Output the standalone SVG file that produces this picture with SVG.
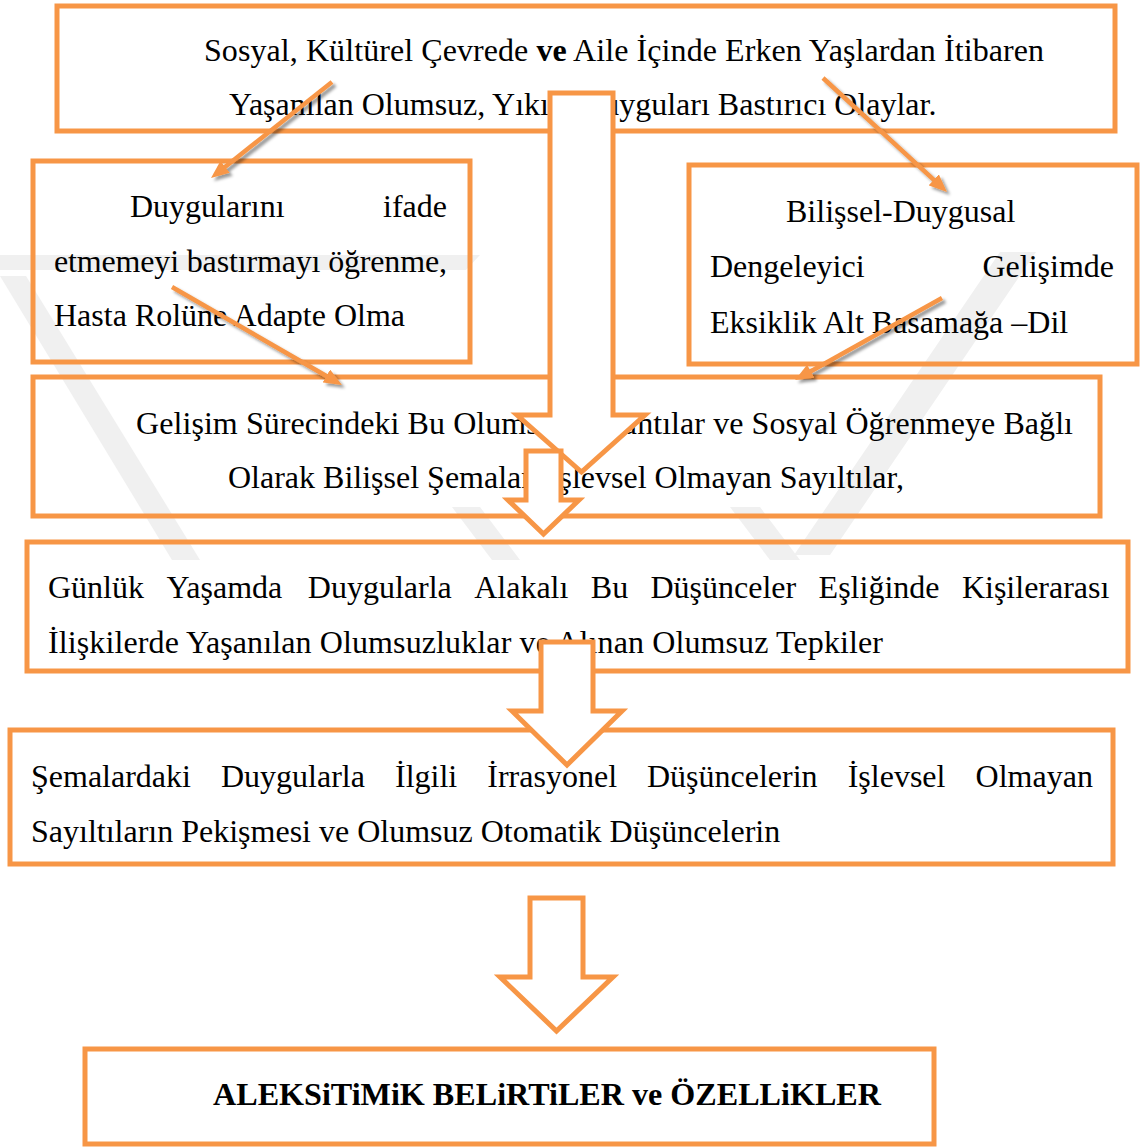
<svg xmlns="http://www.w3.org/2000/svg" width="1144" height="1147" viewBox="0 0 1144 1147">
<style>
.box{fill:none;stroke:#F79646;stroke-width:5}
.t{font-family:"Liberation Serif","Times New Roman",serif;font-size:32px;fill:#000}
.b{font-weight:bold}
.blk{fill:#fff;stroke:#F79646;stroke-width:5;stroke-linejoin:miter}
.ln{stroke:#F79646;stroke-width:4.5;fill:none;marker-end:url(#ah)}
.wm{fill:#f0f0f0}
</style>
<defs>
<marker id="ah" viewBox="0 0 18 15" markerUnits="userSpaceOnUse" markerWidth="18" markerHeight="15" refX="5" refY="7.5" orient="auto">
<path d="M0,0 L18,7.5 L0,15 z" fill="#F79646"/>
</marker>
<filter id="sh" x="-20%" y="-20%" width="140%" height="140%">
<feDropShadow dx="3" dy="3" stdDeviation="1.5" flood-color="#000" flood-opacity="0.4"/>
</filter>
</defs>
<rect width="1144" height="1147" fill="#fff"/>
<g id="watermark">
<polygon class="wm" points="0,255 480,255 466,270 0,270"/>
<polygon class="wm" points="0,276 26,276 200,560 172,560"/>
<polygon class="wm" points="452,507 480,507 520,560 492,560"/>
<polygon class="wm" points="730,507 760,507 800,560 770,560"/>
<polygon class="wm" points="1000,252 1036,252 830,555 794,555"/>
</g>
<g id="n1">
<rect class="box" x="57" y="6" width="1058" height="125"/>
<text class="t" x="204" y="61" textLength="840" lengthAdjust="spacing">Sosyal, Kültürel Çevrede <tspan class="b">ve</tspan> Aile İçinde Erken Yaşlardan İtibaren</text>
<text class="t" x="229" y="115">Yaşanılan Olumsuz, Yıkıcı Duyguları Bastırıcı Olaylar.</text>
</g>
<g id="n2">
<rect class="box" x="33" y="161" width="437" height="201"/>
<text class="t" x="130" y="217">Duygularını</text>
<text class="t" x="447" y="217" text-anchor="end">ifade</text>
<text class="t" x="54" y="272" textLength="393" lengthAdjust="spacing">etmemeyi bastırmayı öğrenme,</text>
<text class="t" x="54" y="326">Hasta Rolüne Adapte Olma</text>
</g>
<g id="n3">
<rect class="box" x="689" y="165" width="448" height="199"/>
<text class="t" x="786" y="222">Bilişsel-Duygusal</text>
<text class="t" x="710" y="277">Dengeleyici</text>
<text class="t" x="1114" y="277" text-anchor="end">Gelişimde</text>
<text class="t" x="710" y="333">Eksiklik Alt Basamağa –Dil</text>
</g>
<g id="n4">
<rect class="box" x="33" y="377" width="1067" height="139"/>
<text class="t" x="136" y="434" textLength="937" lengthAdjust="spacing">Gelişim Sürecindeki Bu Olumsuz Yaşantılar ve Sosyal Öğrenmeye Bağlı</text>
<text class="t" x="228" y="488">Olarak Bilişsel Şemaları İşlevsel Olmayan Sayıltılar,</text>
</g>
<g id="n5">
<rect class="box" x="27" y="542" width="1101" height="129"/>
<text class="t" y="598"><tspan x="48">Günlük</tspan><tspan x="166.4">Yaşamda</tspan><tspan x="307.8">Duygularla</tspan><tspan x="474.2">Alakalı</tspan><tspan x="590.8">Bu</tspan><tspan x="650.5">Düşünceler</tspan><tspan x="818.6">Eşliğinde</tspan><tspan x="961.9">Kişilerarası</tspan></text>
<text class="t" x="48" y="653" textLength="835" lengthAdjust="spacing">İlişkilerde Yaşanılan Olumsuzluklar ve Alınan Olumsuz Tepkiler</text>
</g>
<g id="n6">
<rect class="box" x="10" y="730" width="1103" height="134"/>
<text class="t" y="787"><tspan x="31">Şemalardaki</tspan><tspan x="221">Duygularla</tspan><tspan x="395">İlgili</tspan><tspan x="487.3">İrrasyonel</tspan><tspan x="647">Düşüncelerin</tspan><tspan x="847.7">İşlevsel</tspan><tspan x="975.6">Olmayan</tspan></text>
<text class="t" x="31" y="842">Sayıltıların Pekişmesi ve Olumsuz Otomatik Düşüncelerin</text>
</g>
<g id="n7">
<rect class="box" x="85" y="1049" width="849" height="95"/>
<text class="t b" x="213" y="1105" textLength="668" lengthAdjust="spacingAndGlyphs">ALEKSiTiMiK BELiRTiLER ve ÖZELLiKLER</text>
</g>
<g id="connectors">
<polygon class="blk" points="550,93 613,93 613,415 645,415 581.5,472 517,415 550,415"/>
<polygon class="blk" points="526,451 561,451 561,500 579,500 543.5,534 508,500 526,500"/>
<polygon class="blk" points="541,642 593,642 593,711 622,711 567,765 512,711 541,711"/>
<polygon class="blk" points="530,898 583,898 583,977 613,977 556.5,1031 500,977 530,977"/>
<g filter="url(#sh)">
<line class="ln" x1="332" y1="82" x2="221.2" y2="169.9"/>
<line class="ln" x1="172" y1="287" x2="330.7" y2="378.5"/>
<line class="ln" x1="823" y1="78" x2="937.4" y2="183.2"/>
<line class="ln" x1="942" y1="298" x2="806.4" y2="373.7"/>
</g>
</g>
</svg>
